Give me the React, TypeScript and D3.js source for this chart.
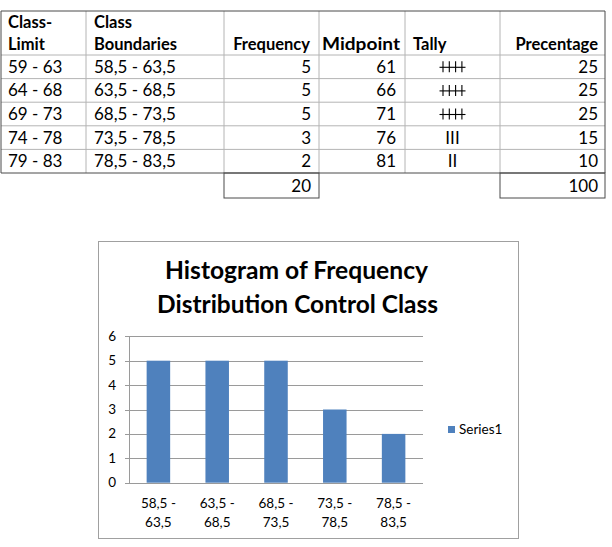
import React from "react";
import * as d3 from "d3";

const classLimits = ["59 - 63", "64 - 68", "69 - 73", "74 - 78", "79 - 83"];
const classBoundaries = ["58,5 - 63,5", "63,5 - 68,5", "68,5 - 73,5", "73,5 - 78,5", "78,5 - 83,5"];
const frequencies = [5, 5, 5, 3, 2];
const midpoints = [61, 66, 71, 76, 81];
const tallies = ["IIII", "IIII", "IIII", "III", "II"];
const percentages = [25, 25, 25, 15, 10];
const totalFrequency = 20;
const totalPercentage = 100;
const yTicks = [0, 1, 2, 3, 4, 5, 6];
const chartTitle = ["Histogram of Frequency", "Distribution Control Class"];
const seriesName = "Series1";

const FONT = "Lato, 'Open Sans', 'Liberation Sans', sans-serif";

export default function App() {
  // ---- table layout ----
  const colX = [1, 86, 224, 319, 405, 500, 605];
  const tableTop = 11;
  const headerBottom = 55;
  const rowY = d3.scaleLinear().domain([0, classLimits.length]).range([headerBottom, 173]);
  const totalBottom = 198;
  const inner = "#b4b4b4";
  const outer = "#4a4a4a";

  // ---- chart layout ----
  const plotLeft = 129, plotRight = 423;
  const x = d3.scaleBand<string>().domain(classBoundaries).range([plotLeft, plotRight]).paddingInner(0.6).paddingOuter(0.3);
  const y = d3.scaleLinear().domain([0, 6]).range([482.7, 336.3]);

  const rowH = rowY(1) - rowY(0);

  return (
    <svg width={612} height={547} style={{ position: "absolute", left: 0, top: 0, background: "#fff" }} fontFamily={FONT}>
      <rect x={0} y={0} width={612} height={547} fill="#fff" />
      {/* table inner lines */}
      {colX.slice(1, -1).map((cx, i) => (
        <line key={"v" + i} x1={cx} x2={cx} y1={tableTop} y2={rowY(classLimits.length)} stroke={inner} />
      ))}
      {classLimits.map((_, i) => (
        <line key={"h" + i} x1={colX[0]} x2={colX[6]} y1={rowY(i)} y2={rowY(i)} stroke={inner} />
      ))}
      {/* outer borders */}
      <line x1={colX[0]} x2={colX[6]} y1={tableTop} y2={tableTop} stroke={outer} />
      <line x1={colX[0]} x2={colX[0]} y1={tableTop} y2={rowY(5)} stroke={outer} />
      <line x1={colX[6]} x2={colX[6]} y1={tableTop} y2={rowY(5)} stroke={outer} />
      <line x1={colX[0]} x2={colX[6]} y1={rowY(5)} y2={rowY(5)} stroke={outer} />
      {/* total cells */}
      <rect x={colX[2]} y={rowY(5)} width={colX[3] - colX[2]} height={totalBottom - rowY(5)} fill="none" stroke={outer} />
      <rect x={colX[5]} y={rowY(5)} width={colX[6] - colX[5]} height={totalBottom - rowY(5)} fill="none" stroke={outer} />

      {/* headers */}
      <g fontWeight="bold" fontSize={16.5} fill="#000">
        <text x={colX[0] + 7} y={28}>Class-</text>
        <text x={colX[0] + 7} y={50}>Limit</text>
        <text x={colX[1] + 8} y={28}>Class</text>
        <text x={colX[1] + 8} y={50}>Boundaries</text>
        <text x={colX[3] - 9} y={50} textAnchor="end">Frequency</text>
        <text x={colX[3] + 3} y={50} textLength={78} lengthAdjust="spacingAndGlyphs">Midpoint</text>
        <text x={colX[4] + 8} y={50}>Tally</text>
        <text x={colX[6] - 7} y={50} textAnchor="end">Precentage</text>
      </g>
      {/* rows */}
      <g fontSize={17} fill="#000">
        {classLimits.map((c, i) => {
          const base = rowY(i) + rowH / 2 + 6;
          const mid = rowY(i) + rowH / 2;
          const tx = (colX[4] + colX[5]) / 2;
          const n = tallies[i].length;
          return (
            <g key={"r" + i}>
              <text x={colX[0] + 7} y={base}>{c}</text>
              <text x={colX[1] + 8} y={base}>{classBoundaries[i]}</text>
              <text x={colX[3] - 8} y={base} textAnchor="end">{frequencies[i]}</text>
              <text x={colX[4] - 9} y={base} textAnchor="end">{midpoints[i]}</text>
              {frequencies[i] === 5 ? (
                <g>
                  {d3.range(n).map((k) => (
                    <line key={k} x1={tx - 9.5 + k * 6.3} x2={tx - 9.5 + k * 6.3} y1={mid - 5.5} y2={mid + 5.5} stroke="#000" strokeWidth={1.1} />
                  ))}
                  <line x1={tx - 13} x2={tx + 13} y1={mid + 0.5} y2={mid + 0.5} stroke="#000" strokeWidth={1.1} />
                </g>
              ) : (
                <text x={tx} y={base} textAnchor="middle">{tallies[i]}</text>
              )}
              <text x={colX[6] - 7} y={base} textAnchor="end">{percentages[i]}</text>
            </g>
          );
        })}
        <text x={colX[3] - 8} y={rowY(5) + 19} textAnchor="end">{totalFrequency}</text>
        <text x={colX[6] - 7} y={rowY(5) + 19} textAnchor="end">{totalPercentage}</text>
      </g>

      {/* chart frame */}
      <rect x={98.5} y={241.5} width={420} height={297} fill="#fff" stroke="#a0a0a0" />
      {/* title */}
      <g fontWeight="bold" fontSize={24.5} fill="#000" textAnchor="middle">
        <text x={296.5} y={279} textLength={263} lengthAdjust="spacingAndGlyphs">{chartTitle[0]}</text>
        <text x={297.5} y={313} textLength={281} lengthAdjust="spacingAndGlyphs">{chartTitle[1]}</text>
      </g>
      {/* gridlines */}
      {yTicks.map((t) => (
        <line key={"g" + t} x1={plotLeft - 4} x2={plotRight} y1={Math.round(y(t)) + 0.5} y2={Math.round(y(t)) + 0.5} stroke="#9a9a9a" />
      ))}
      <line x1={plotLeft + 0.5} x2={plotLeft + 0.5} y1={Math.round(y(6))} y2={Math.round(y(0)) + 0.5} stroke="#9a9a9a" />
      {/* bars */}
      {classBoundaries.map((c, i) => (
        <rect key={"b" + i} x={x(c)} y={y(frequencies[i])} width={x.bandwidth()} height={y(0) - y(frequencies[i])} fill="#4f81bd" />
      ))}
      {/* y labels */}
      <g fontSize={13.5} fill="#000" textAnchor="end">
        {yTicks.map((t) => (
          <text key={"yl" + t} x={116} y={y(t) + 4.5}>{t}</text>
        ))}
      </g>
      {/* x labels */}
      <g fontSize={13.5} fill="#000" textAnchor="middle">
        {classBoundaries.map((c) => {
          const parts = c.split(" - ");
          const cx = (x(c) as number) + x.bandwidth() / 2;
          return (
            <g key={"xl" + c}>
              <text x={cx} y={508}>{parts[0] + " -"}</text>
              <text x={cx} y={527}>{parts[1]}</text>
            </g>
          );
        })}
      </g>
      {/* legend */}
      <rect x={448} y={426} width={7} height={7} fill="#4f81bd" />
      <text x={459} y={434} fontSize={13.5} fill="#000">{seriesName}</text>
    </svg>
  );
}
